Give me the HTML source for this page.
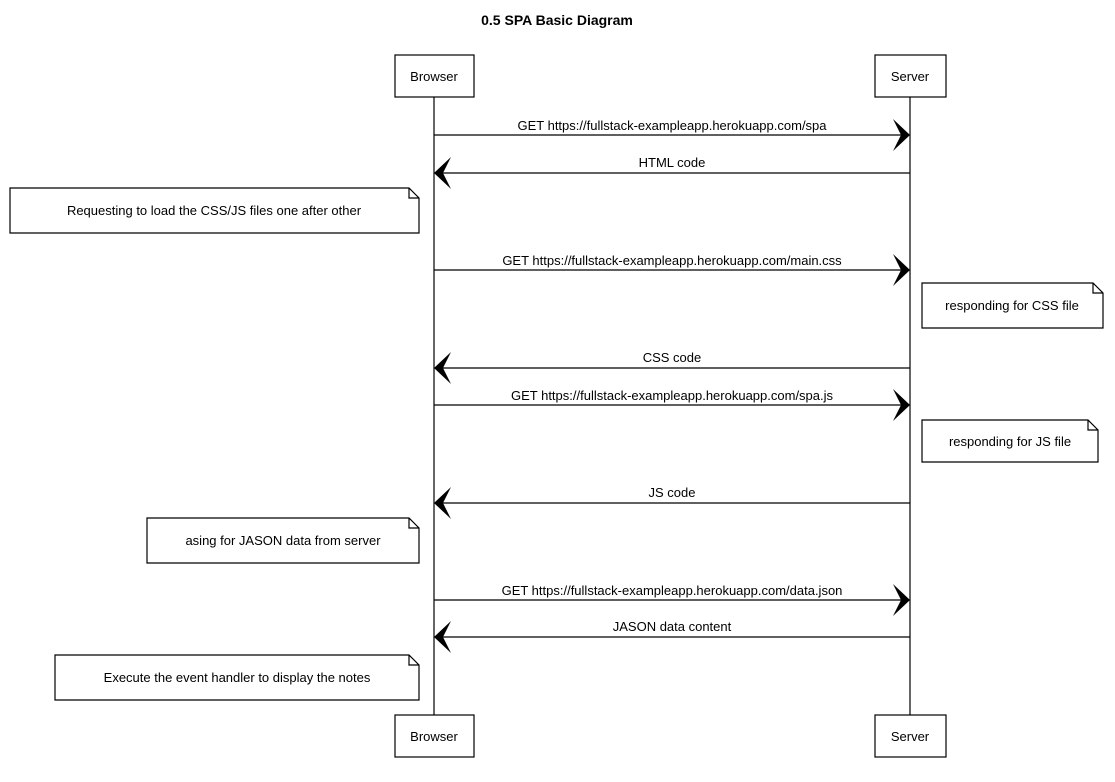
<!DOCTYPE html>
<html><head><meta charset="utf-8"><style>
html,body{margin:0;padding:0;background:#fff;}
svg{display:block;}
text{font-family:"Liberation Sans",sans-serif;font-size:13px;fill:#000;}
</style></head><body>
<svg width="1115" height="782" viewBox="0 0 1115 782" xmlns="http://www.w3.org/2000/svg">
<defs>
<path id="ar" d="M0 0 L-17 -16 L-9 0 L-17 16 Z" fill="#000"/>
<path id="al" d="M0 0 L17 -16 L9 0 L17 16 Z" fill="#000"/>
</defs>
<g stroke="#000" fill="none" stroke-width="1.2">
<line x1="434" y1="97" x2="434" y2="715"/>
<line x1="910" y1="97" x2="910" y2="715"/>
<rect x="395" y="55" width="79" height="42" fill="#fff"/>
<rect x="875" y="55" width="71" height="42" fill="#fff"/>
<rect x="395" y="715" width="79" height="42" fill="#fff"/>
<rect x="875" y="715" width="71" height="42" fill="#fff"/>
<path d="M10 188 H409 L419 198 V233 H10 Z M409 188 V198 H419" fill="#fff"/>
<path d="M922 283 H1093 L1103 293 V328 H922 Z M1093 283 V293 H1103" fill="#fff"/>
<path d="M922 420 H1088 L1098 430 V462 H922 Z M1088 420 V430 H1098" fill="#fff"/>
<path d="M147 518 H409 L419 528 V563 H147 Z M409 518 V528 H419" fill="#fff"/>
<path d="M55 655 H409 L419 665 V700 H55 Z M409 655 V665 H419" fill="#fff"/>
<line x1="434" y1="135" x2="905" y2="135"/>
<line x1="440" y1="173" x2="910" y2="173"/>
<line x1="434" y1="270" x2="905" y2="270"/>
<line x1="440" y1="368" x2="910" y2="368"/>
<line x1="434" y1="405" x2="905" y2="405"/>
<line x1="440" y1="503" x2="910" y2="503"/>
<line x1="434" y1="600" x2="905" y2="600"/>
<line x1="440" y1="637" x2="910" y2="637"/>
</g>
<use href="#ar" x="910" y="135"/>
<use href="#al" x="434" y="173"/>
<use href="#ar" x="910" y="270"/>
<use href="#al" x="434" y="368"/>
<use href="#ar" x="910" y="405"/>
<use href="#al" x="434" y="503"/>
<use href="#ar" x="910" y="600"/>
<use href="#al" x="434" y="637"/>
<text x="557" y="25" text-anchor="middle" font-weight="bold" style="font-size:14px">0.5 SPA Basic Diagram</text>
<text x="434" y="81" text-anchor="middle">Browser</text>
<text x="910" y="81" text-anchor="middle">Server</text>
<text x="434" y="741" text-anchor="middle">Browser</text>
<text x="910" y="741" text-anchor="middle">Server</text>
<text x="672" y="130" text-anchor="middle">GET https://fullstack-exampleapp.herokuapp.com/spa</text>
<text x="672" y="167" text-anchor="middle">HTML code</text>
<text x="214" y="215" text-anchor="middle">Requesting to load the CSS/JS files one after other</text>
<text x="672" y="265" text-anchor="middle">GET https://fullstack-exampleapp.herokuapp.com/main.css</text>
<text x="1012" y="310" text-anchor="middle">responding for CSS file</text>
<text x="672" y="362" text-anchor="middle">CSS code</text>
<text x="672" y="400" text-anchor="middle">GET https://fullstack-exampleapp.herokuapp.com/spa.js</text>
<text x="1010" y="446" text-anchor="middle">responding for JS file</text>
<text x="672" y="497" text-anchor="middle">JS code</text>
<text x="283" y="545" text-anchor="middle">asing for JASON data from server</text>
<text x="672" y="595" text-anchor="middle">GET https://fullstack-exampleapp.herokuapp.com/data.json</text>
<text x="672" y="631" text-anchor="middle">JASON data content</text>
<text x="237" y="682" text-anchor="middle">Execute the event handler to display the notes</text>
</svg>
</body></html>
